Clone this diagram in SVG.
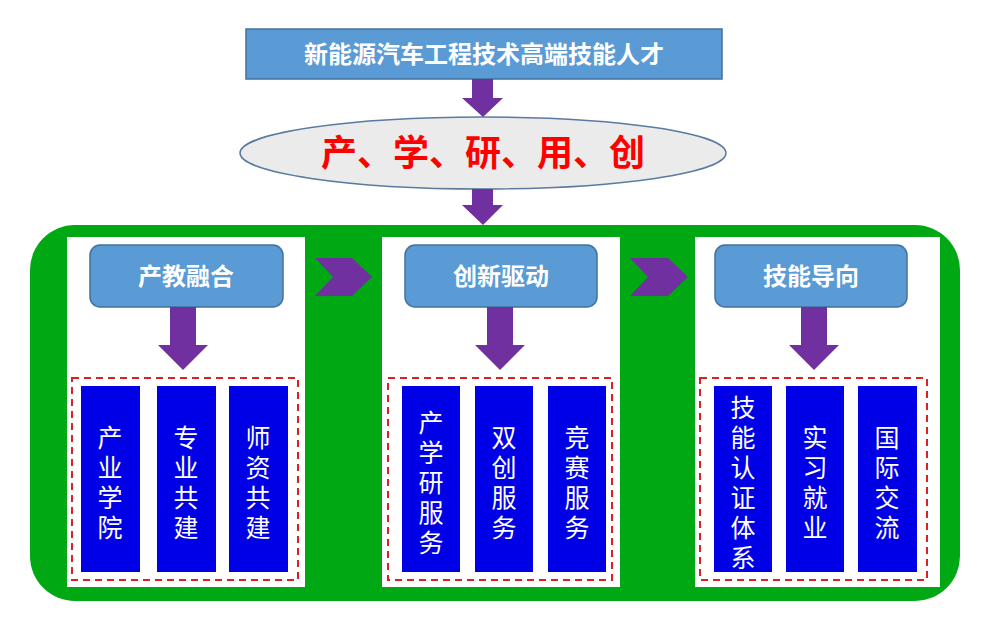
<svg xmlns="http://www.w3.org/2000/svg" width="1000" height="641" viewBox="0 0 1000 641">
<style>
.hd{fill:#5b9bd5;stroke:#41719c;stroke-width:1.5}
.ar{fill:#7030a0}
.pn{fill:#fff}
.dash{fill:none;stroke:#e02020;stroke-width:2;stroke-dasharray:7,5}
.col{fill:#0000e6}
.ht{font-family:"Noto Sans CJK SC",sans-serif;font-weight:bold;fill:#fff;font-size:24px;text-anchor:middle}
.ct{font-family:"Noto Sans CJK SC",sans-serif;fill:#fff;font-size:25px;text-anchor:middle}
</style>
<rect width="1000" height="641" fill="#fff"/>
<g id="top"><rect class="hd" x="246" y="29" width="476" height="50"/><text class="ht" x="484" y="63">新能源汽车工程技术高端技能人才</text></g>
<g id="ellipse"><ellipse cx="483" cy="153" rx="243" ry="36" fill="#ebebeb" stroke="#5a7aa0" stroke-width="1.5"/><text x="483" y="166" font-family="Noto Sans CJK SC,sans-serif" font-weight="bold" font-size="36" fill="#ff0000" text-anchor="middle">产、学、研、用、创</text></g>
<g id="frame"><rect x="30" y="225" width="930" height="376" rx="45" fill="#00a814"/></g>
<g id="connectors">
<polygon class="ar" points="472,79 493,79 493,98 503,98 483,117 462,98 472,98"/>
<polygon class="ar" points="472,189 493,189 493,205 503,205 483,225 462,205 472,205"/>
<polygon class="ar" points="315,258 352,258 372,277 352,296 315,296 333,277"/>
<polygon class="ar" points="630,258 668,258 688,277 668,296 630,296 648,277"/>
</g>
<g id="panel1">
<rect class="pn" x="67" y="237" width="238" height="350"/>
<rect class="hd" x="90" y="245" width="193" height="62" rx="10"/><text class="ht" x="186" y="285">产教融合</text>
<polygon class="ar" points="170,307 196,307 196,345 208,345 183,370 158,345 170,345"/>
<rect class="dash" x="72" y="378" width="226" height="202"/>
<rect class="col" x="81" y="386" width="59" height="186"/><rect class="col" x="157" y="386" width="59" height="186"/><rect class="col" x="229" y="386" width="59" height="186"/>
<text class="ct"><tspan x="110" y="447">产</tspan><tspan x="110" y="477">业</tspan><tspan x="110" y="507">学</tspan><tspan x="110" y="537">院</tspan></text>
<text class="ct"><tspan x="186" y="447">专</tspan><tspan x="186" y="477">业</tspan><tspan x="186" y="507">共</tspan><tspan x="186" y="537">建</tspan></text>
<text class="ct"><tspan x="258" y="447">师</tspan><tspan x="258" y="477">资</tspan><tspan x="258" y="507">共</tspan><tspan x="258" y="537">建</tspan></text>
</g>
<g id="panel2">
<rect class="pn" x="382" y="237" width="238" height="350"/>
<rect class="hd" x="405" y="245" width="192" height="62" rx="10"/><text class="ht" x="501" y="285">创新驱动</text>
<polygon class="ar" points="487,307 513,307 513,345 525,345 500,370 475,345 487,345"/>
<rect class="dash" x="388" y="378" width="224" height="202"/>
<rect class="col" x="402" y="386" width="58" height="186"/><rect class="col" x="475" y="386" width="58" height="186"/><rect class="col" x="548" y="386" width="58" height="186"/>
<text class="ct"><tspan x="431" y="432">产</tspan><tspan x="431" y="462">学</tspan><tspan x="431" y="492">研</tspan><tspan x="431" y="522">服</tspan><tspan x="431" y="552">务</tspan></text>
<text class="ct"><tspan x="504" y="447">双</tspan><tspan x="504" y="477">创</tspan><tspan x="504" y="507">服</tspan><tspan x="504" y="537">务</tspan></text>
<text class="ct"><tspan x="577" y="447">竞</tspan><tspan x="577" y="477">赛</tspan><tspan x="577" y="507">服</tspan><tspan x="577" y="537">务</tspan></text>
</g>
<g id="panel3">
<rect class="pn" x="695" y="237" width="245" height="350"/>
<rect class="hd" x="715" y="245" width="192" height="62" rx="10"/><text class="ht" x="811" y="285">技能导向</text>
<polygon class="ar" points="801,307 827,307 827,345 839,345 814,370 789,345 801,345"/>
<rect class="dash" x="700" y="378" width="227" height="202"/>
<rect class="col" x="714" y="386" width="58" height="186"/><rect class="col" x="786" y="386" width="58" height="186"/><rect class="col" x="858" y="386" width="59" height="186"/>
<text class="ct"><tspan x="743" y="417">技</tspan><tspan x="743" y="447">能</tspan><tspan x="743" y="477">认</tspan><tspan x="743" y="507">证</tspan><tspan x="743" y="537">体</tspan><tspan x="743" y="567">系</tspan></text>
<text class="ct"><tspan x="815" y="447">实</tspan><tspan x="815" y="477">习</tspan><tspan x="815" y="507">就</tspan><tspan x="815" y="537">业</tspan></text>
<text class="ct"><tspan x="887" y="447">国</tspan><tspan x="887" y="477">际</tspan><tspan x="887" y="507">交</tspan><tspan x="887" y="537">流</tspan></text>
</g>
</svg>
